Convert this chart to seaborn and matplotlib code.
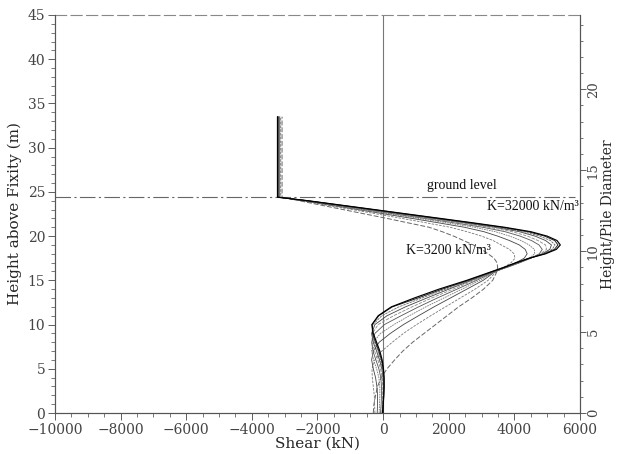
import numpy as np
import pandas as pd
import matplotlib
matplotlib.use("Agg")
import matplotlib.pyplot as plt
import seaborn as sns
from matplotlib.ticker import MultipleLocator

# ---------------- data ----------------
heights = [33.5, 24.4, 24.0, 23.5, 23.0, 22.5, 22.0, 21.5, 21.0, 20.5, 20.0, 19.5,
           19.0, 18.5, 18.0, 17.5, 17.0, 16.5, 16.0, 15.0, 14.0, 13.0, 12.0, 11.0,
           10.0, 9.0, 8.0, 7.0, 6.0, 5.0, 4.0, 3.0, 2.0, 1.0, 0.0]

K_values = [3200, 6400, 9600, 12800, 16000, 19200, 22400, 25600, 28800, 32000]

shear_k3200 = [-3080, -3080, -2560, -1890, -1220, -550, 120, 760, 1400, 1800, 2150, 2450,
               2750, 3000, 3200, 3380, 3470, 3490, 3470, 3340, 3060, 2700, 2300, 1950,
               1600, 1250, 900, 600, 350, 120, -60, -170, -230, -280, -300]
shear_k6400 = [-3120, -3120, -2485, -1720, -955, -190, 575, 1315, 2045, 2555, 3000, 3350,
               3600, 3850, 3990, 4020, 3900, 3700, 3450, 3200, 2800, 2350, 1900, 1450,
               1020, 620, 280, -40, -250, -340, -330, -300, -270, -260, -250]
shear_k9600 = [-3150, -3150, -2435, -1605, -775, 50, 880, 1690, 2480, 3070, 3490, 3850,
               4150, 4330, 4390, 4300, 4050, 3750, 3420, 3050, 2550, 2050, 1550, 1080,
               620, 220, -120, -300, -350, -300, -230, -190, -170, -170, -180]
shear_k12800 = [-3170, -3170, -2400, -1525, -650, 220, 1090, 1950, 2780, 3420, 3860, 4200,
                4450, 4610, 4620, 4450, 4150, 3800, 3420, 2950, 2400, 1850, 1300, 800,
                330, -80, -300, -350, -290, -200, -130, -100, -100, -110, -120]
shear_k16000 = [-3180, -3180, -2370, -1455, -545, 360, 1270, 2165, 3035, 3715, 4175, 4520,
                4750, 4850, 4760, 4500, 4170, 3800, 3400, 2850, 2250, 1650, 1080, 550,
                40, -250, -350, -310, -220, -130, -70, -50, -50, -60, -80]
shear_k19200 = [-3190, -3190, -2345, -1410, -470, 460, 1400, 2325, 3215, 3935, 4400, 4720,
                4950, 4980, 4800, 4500, 4150, 3780, 3400, 2780, 2130, 1480, 880, 320,
                -150, -330, -340, -260, -160, -80, -30, -10, -15, -25, -40]
shear_k22400 = [-3200, -3200, -2325, -1360, -395, 565, 1530, 2485, 3400, 4150, 4630, 4950,
                5130, 5080, 4850, 4480, 4120, 3760, 3380, 2700, 2000, 1330, 680, 120,
                -250, -350, -300, -200, -110, -40, 0, 10, 5, -5, -10]
shear_k25600 = [-3200, -3200, -2310, -1330, -345, 630, 1610, 2580, 3515, 4285, 4770, 5100,
                5240, 5150, 4880, 4470, 4100, 3740, 3360, 2650, 1900, 1180, 480, -40,
                -310, -340, -260, -160, -80, -20, 15, 20, 15, 5, 0]
shear_k28800 = [-3210, -3210, -2300, -1300, -300, 690, 1690, 2680, 3630, 4420, 4920, 5230,
                5330, 5220, 4920, 4460, 4070, 3720, 3340, 2600, 1800, 1060, 280, -130,
                -340, -320, -230, -130, -50, 0, 25, 30, 20, 10, 10]
shear_k32000 = [-3220, -3220, -2290, -1280, -270, 730, 1740, 2740, 3700, 4500, 5000, 5300,
                5400, 5280, 4950, 4450, 4050, 3700, 3320, 2550, 1700, 950, 250, -150,
                -340, -300, -200, -100, -30, 10, 30, 30, 20, 0, -20]

shear_series = [shear_k3200, shear_k6400, shear_k9600, shear_k12800, shear_k16000,
                shear_k19200, shear_k22400, shear_k25600, shear_k28800, shear_k32000]

ground_level = 24.4
pile_diameter = 1.83

x_ticks = [-10000, -8000, -6000, -4000, -2000, 0, 2000, 4000, 6000]
y_ticks = [0, 5, 10, 15, 20, 25, 30, 35, 40, 45]
y2_ticks = [0, 5, 10, 15, 20]

rows = []
for K, vals in zip(K_values, shear_series):
    for h, v in zip(heights, vals):
        rows.append({"K": K, "height": h, "shear": v})
df = pd.DataFrame(rows)

# ---------------- style ----------------
sns.set_style("ticks")
plt.rcParams["font.family"] = ["DejaVu Serif"]
plt.rcParams["axes.edgecolor"] = "#555555"
plt.rcParams["xtick.color"] = "#444444"
plt.rcParams["ytick.color"] = "#444444"
plt.rcParams["text.color"] = "#222222"

fig = plt.figure(figsize=(6.18, 4.54), dpi=100)
ax = fig.add_axes([0.089, 0.0903, 0.8495, 0.8767])

styles = [
    dict(color="#666666", lw=0.7, dashes=(5, 2)),
    dict(color="#777777", lw=0.6, dashes=(3, 1.5)),
    dict(color="#444444", lw=0.6),
    dict(color="#777777", lw=0.6, dashes=(2, 1)),
    dict(color="#555555", lw=0.6),
    dict(color="#888888", lw=0.6, dashes=(4, 1.5)),
    dict(color="#444444", lw=0.6),
    dict(color="#666666", lw=0.6, dashes=(3, 1)),
    dict(color="#222222", lw=0.7),
    dict(color="#000000", lw=0.85),
]

for K, st in zip(K_values, styles):
    sub = df[df["K"] == K]
    sns.lineplot(data=sub, x="shear", y="height", orient="y", sort=True,
                 estimator=None, ax=ax, legend=False, **st)

ax.axvline(0, color="#777777", lw=0.8, zorder=0)
ax.axhline(ground_level, xmin=0, xmax=0.99, color="#666666", lw=0.8,
           ls=(0, (14, 3, 2, 3)), zorder=0)

ax.set_xlim(-10000, 6000)
ax.set_ylim(0, 45)
ax.set_xticks(x_ticks)
ax.set_yticks(y_ticks)
ax.xaxis.set_minor_locator(MultipleLocator(500))
ax.yaxis.set_minor_locator(MultipleLocator(1))
ax.tick_params(which="major", length=5, width=0.6, labelsize=10, pad=2)
ax.tick_params(which="minor", length=3, width=0.5)
ax.set_xlabel("Shear (kN)", fontsize=11, labelpad=0)
ax.set_ylabel("Height above Fixity (m)", fontsize=11, labelpad=4)

for s in ["left", "bottom", "right", "top"]:
    ax.spines[s].set_linewidth(0.8)
ax.spines["top"].set_linestyle((0, (10, 4)))
ax.spines["top"].set_color("#888888")

ax2 = ax.twinx()
ax2.set_ylim(0, 45 / pile_diameter)
ax2.set_yticks(y2_ticks)
ax2.yaxis.set_minor_locator(MultipleLocator(1))
ax2.tick_params(which="major", length=4, width=0.6, labelsize=9.5, pad=1)
ax2.tick_params(which="minor", length=2.5, width=0.5)
for lab in ax2.get_yticklabels():
    lab.set_rotation(90)
    lab.set_va("center")
ax2.set_ylabel("Height/Pile Diameter", fontsize=10, rotation=90, labelpad=1)
ax2.spines["top"].set_visible(False)

txt_font = dict(family=["Liberation Serif", "DejaVu Serif"], fontsize=10, color="#111111")
ax.text(2400, 25.7, "ground level", ha="center", va="center", **txt_font)
ax.text(5950, 23.3, "K=32000 kN/m³", ha="right", va="center", **txt_font)
ax.text(700, 18.4, "K=3200 kN/m³", ha="left", va="center", **txt_font)

fig.savefig("out.png", dpi=100)
